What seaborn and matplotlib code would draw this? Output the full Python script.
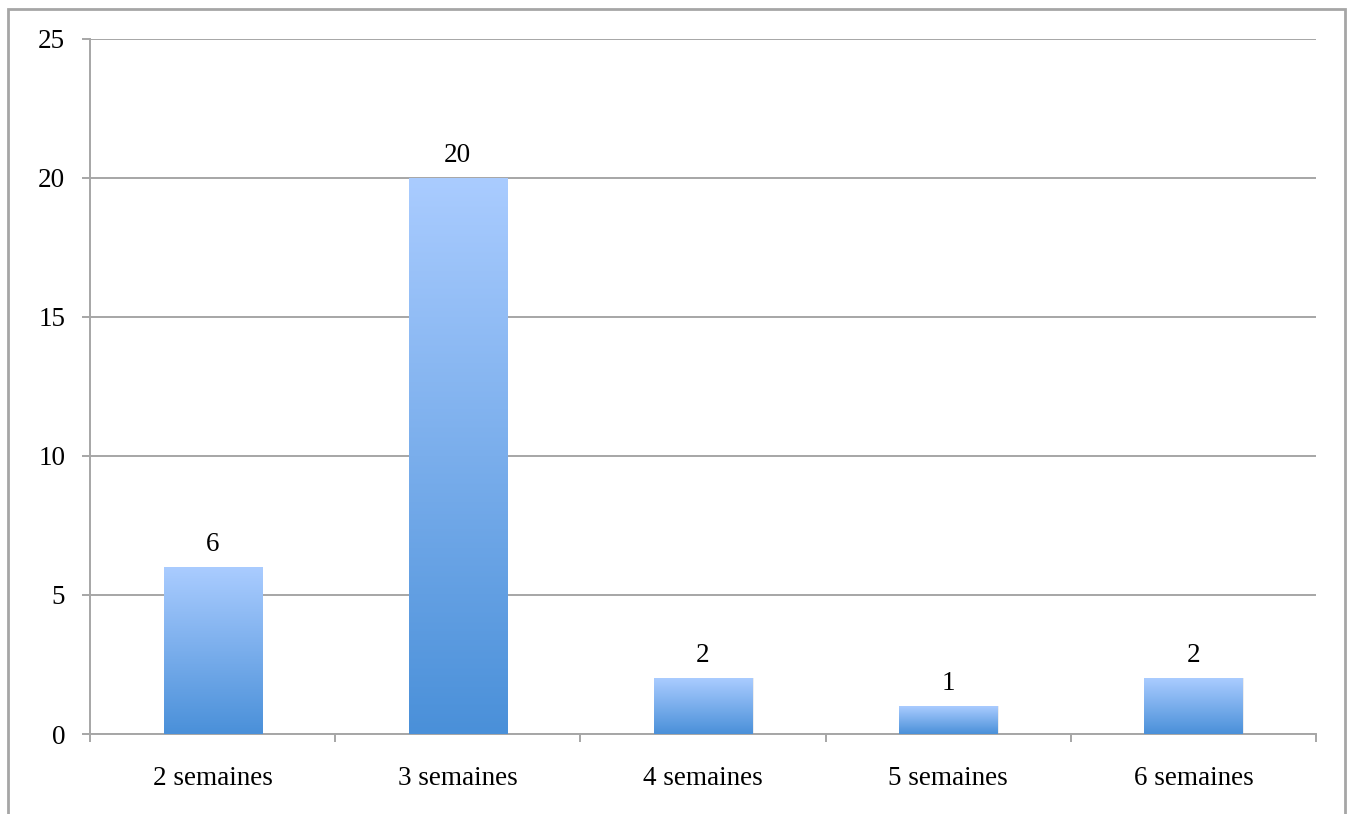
import numpy as np
import pandas as pd
import matplotlib
matplotlib.use("Agg")
import matplotlib.pyplot as plt
import seaborn as sns
from matplotlib.colors import LinearSegmentedColormap
from matplotlib.patches import Rectangle

categories = ["2 semaines", "3 semaines", "4 semaines", "5 semaines", "6 semaines"]
values = [6, 20, 2, 1, 2]
yticks = [0, 5, 10, 15, 20, 25]

sns.set_theme(style="white")
plt.rcParams['font.family'] = ['Liberation Serif', 'DejaVu Serif']
plt.rcParams['xtick.bottom'] = True
plt.rcParams['ytick.left'] = True

GRAY = "#a6a6a6"
FS = 19.5

fig = plt.figure(figsize=(13.52, 8.14), dpi=100)
ax = fig.add_axes([90/1352, 1-734/814, (1316-90)/1352, (734-39)/814])

df = pd.DataFrame({"cat": categories, "val": values})
sns.barplot(data=df, x="cat", y="val", ax=ax, width=0.4, color="#6fa5e6",
            saturation=1, edgecolor="none", zorder=3)

ax.set_ylim(0, 25)
ax.set_xlim(-0.5, len(categories) - 0.5)
ax.set_yticks(yticks)
ax.set_yticklabels([str(t) for t in yticks], fontsize=FS, color="black")
ax.set_xlabel("")
ax.set_ylabel("")
ax.yaxis.grid(True, color=GRAY, linewidth=1.4, zorder=0)
ax.set_axisbelow(True)

# x ticks at category boundaries
ax.set_xticks(np.arange(len(categories)))
ax.set_xticklabels(categories, fontsize=FS, color="black")
ax.tick_params(axis="x", which="major", length=0, pad=23)
ax.set_xticks(np.arange(-0.5, len(categories)), minor=True)
ax.tick_params(axis="x", which="minor", bottom=True, length=5.8, width=1.4,
               color=GRAY, direction="out")
ax.tick_params(axis="y", left=True, length=5.8, width=1.4, color=GRAY,
               direction="out", pad=12)

for side in ["top", "right"]:
    ax.spines[side].set_visible(False)
for side in ["left", "bottom"]:
    ax.spines[side].set_color(GRAY)
    ax.spines[side].set_linewidth(1.4)

cmap = LinearSegmentedColormap.from_list("g", ["#4a90d9", "#aaccff"])
grad = np.linspace(0, 1, 256).reshape(-1, 1)
for p, v in zip(ax.patches, values):
    x0, w, h = p.get_x(), p.get_width(), p.get_height()
    sh = Rectangle((x0 + 0.006, 0), w, h, facecolor="#000000", alpha=0.07,
                   edgecolor="none", zorder=2.5)
    ax.add_patch(sh)
    im = ax.imshow(grad, cmap=cmap, aspect="auto", origin="lower",
                   extent=(x0, x0 + w, 0, h), zorder=3.5)
    im.set_clip_path(p)
    ax.annotate(str(v), (x0 + w / 2, h), xytext=(0, 11.5),
                textcoords="offset points", ha="center", va="baseline",
                fontsize=FS, color="black", zorder=5)

ax.set_xlim(-0.5, len(categories) - 0.5)
ax.set_ylim(0, 25)

# outer frame
fig.patches.append(Rectangle((8/1352, -0.1), (1345-8)/1352, 1.1 - 9/814,
                             transform=fig.transFigure, fill=False,
                             edgecolor=GRAY, linewidth=2, zorder=0))

fig.savefig("out.png", dpi=100)
